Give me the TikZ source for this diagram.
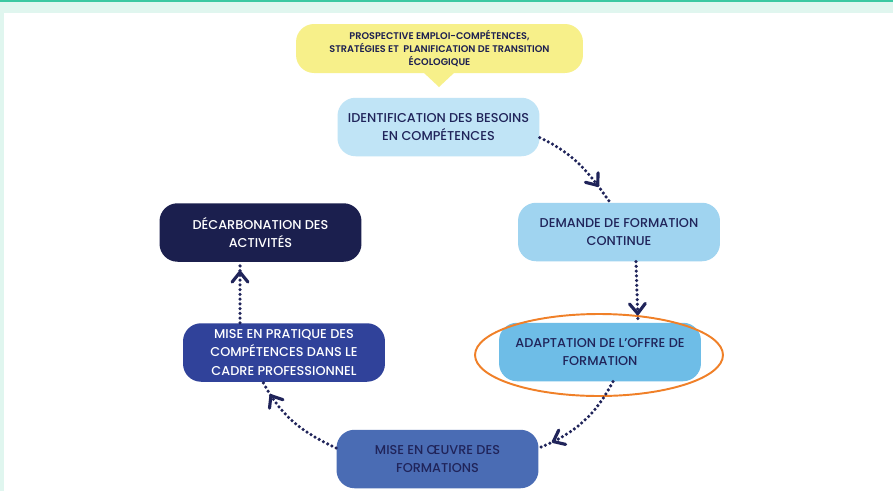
\documentclass[tikz,border=0pt]{standalone}
\usepackage{fontspec}
\setmainfont{Poppins}[UprightFont={* Medium},BoldFont={* SemiBold}]
\usetikzlibrary{arrows.meta,calc,positioning,decorations.markings}
\definecolor{cyclenavy}{RGB}{32,36,90}
\definecolor{cyclemint}{RGB}{224,246,239}
\definecolor{cyclestripe}{RGB}{60,200,162}
\definecolor{cycleyellow}{RGB}{247,240,138}
\definecolor{cycleorange}{RGB}{240,128,40}
\definecolor{stepa}{RGB}{192,228,246}
\definecolor{stepb}{RGB}{160,212,240}
\definecolor{stepc}{RGB}{110,189,231}
\definecolor{stepd}{RGB}{74,108,180}
\definecolor{stepe}{RGB}{48,66,154}
\definecolor{stepf}{RGB}{27,31,78}
\begin{document}
\begin{tikzpicture}[x=0.02cm,y=-0.02cm,line cap=round,line join=round,
  stepbox/.style={rounded corners=0.36cm,minimum width=4.04cm,minimum height=1.17cm,
    align=center,text=cyclenavy,font=\fontsize{7.3}{10.3}\selectfont},
  flow/.style={cyclenavy,line width=2pt,dash pattern=on 0pt off 2.7pt,
    postaction={decorate},decoration={markings,
    mark=at position #1 with {\arrow[line width=1.8pt,solid]{Straight Barb[length=5.6pt,width=9pt,round]}}}}]
 \useasboundingbox (0,0) rectangle (893,491);
 % background
 \fill[cyclemint] (0,0) rectangle (893,491);
 \fill[white] (4,13) rectangle (893,491);
 \fill[cyclestripe] (0,0) rectangle (893,2);
 % callout
 \fill[cycleyellow] (423,72) -- (455,72) -- (439,87) -- cycle;
 \node[stepbox,fill=cycleyellow,minimum width=5.74cm,minimum height=0.98cm,
  font=\fontsize{5.5}{7.4}\selectfont\bfseries,text=cyclenavy!90!black] (prosp) at (439.5,48.5)
  {PROSPECTIVE EMPLOI-COMPÉTENCES,\\STRATÉGIES ET\ \ PLANIFICATION DE TRANSITION\\ÉCOLOGIQUE};
 % steps
 \node[stepbox,fill=stepa] (ident) at (438.5,127) {IDENTIFICATION DES BESOINS\\EN COMPÉTENCES};
 \node[stepbox,fill=stepb] (dem) at (619,232) {DEMANDE DE FORMATION\\CONTINUE};
 \node[stepbox,fill=stepc] (adapt) at (600,352) {ADAPTATION DE L’OFFRE DE\\FORMATION};
 \node[stepbox,fill=stepd] (oeuvre) at (437.5,459) {MISE EN ŒUVRE DES\\FORMATIONS};
 \node[stepbox,fill=stepe,text=white] (prat) at (284,352.5) {MISE EN PRATIQUE DES\\COMPÉTENCES DANS LE\\CADRE PROFESSIONNEL};
 \node[stepbox,fill=stepf,text=white] (decarb) at (260.5,232.5) {DÉCARBONATION DES\\ACTIVITÉS};
 % highlight
 \draw[cycleorange,line width=1.1pt] (599,355) ellipse [x radius=2.48cm,y radius=0.82cm];
 % cycle
 \draw[flow=0.8] (ident.-6) to[out=-25,in=125] (dem.107);
 \draw[flow=0.88] ([xshift=0.34cm]dem.south) -- ([xshift=0.76cm]adapt.north);
 \draw[flow=0.86] ([xshift=0.26cm]adapt.south) to[out=-118,in=22] ([yshift=0.22cm]oeuvre.east);
 \draw[flow=0.86] ([yshift=0.22cm]oeuvre.west) to[out=155,in=-62] ([xshift=-0.42cm]prat.south);
 \draw[flow=0.86] ([xshift=-0.88cm]prat.north) -- ([xshift=-0.41cm]decarb.south);
\end{tikzpicture}
\end{document}
